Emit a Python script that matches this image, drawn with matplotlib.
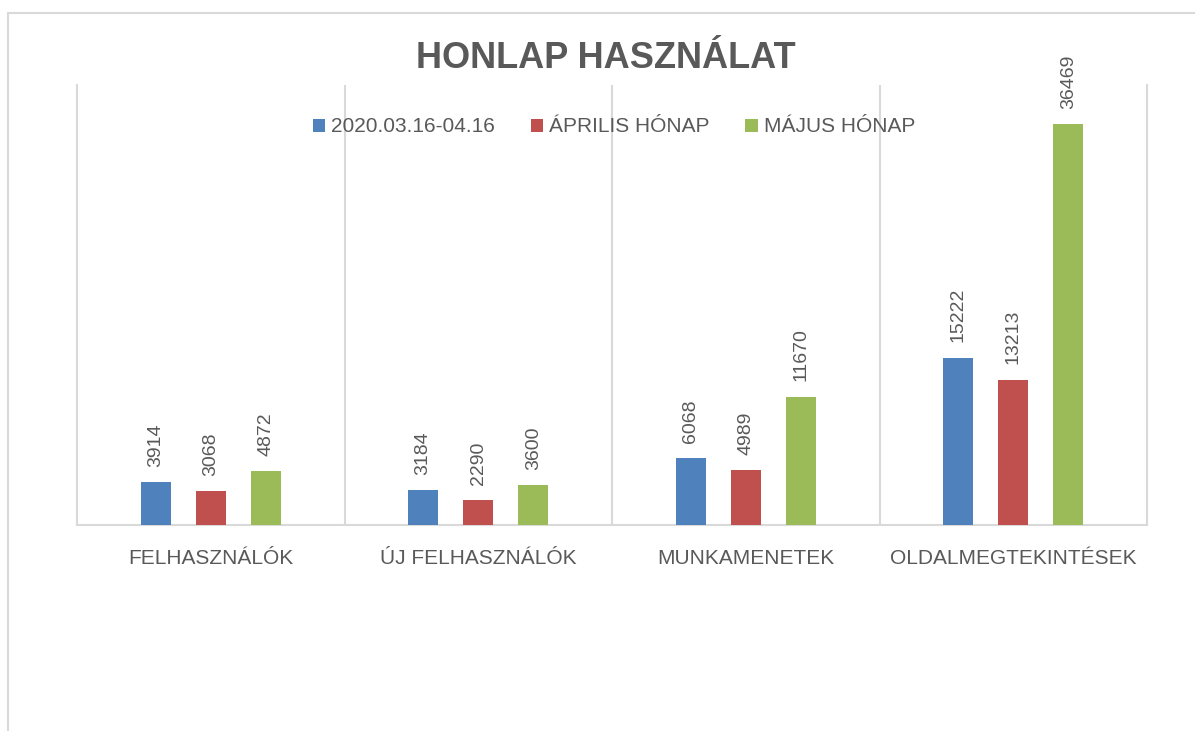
import numpy as np
import matplotlib
matplotlib.use('Agg')
from matplotlib import pyplot as plt
from matplotlib.patches import Rectangle

categories = ['FELHASZNÁLÓK', 'ÚJ FELHASZNÁLÓK', 'MUNKAMENETEK', 'OLDALMEGTEKINTÉSEK']
series_names = ['2020.03.16-04.16', 'ÁPRILIS HÓNAP', 'MÁJUS HÓNAP']
march_april = [3914, 3184, 6068, 15222]
april = [3068, 2290, 4989, 13213]
may = [4872, 3600, 11670, 36469]
colors = ['#4F81BD', '#C0504D', '#9BBB59']

plt.rcParams['font.family'] = ['Liberation Sans', 'DejaVu Sans']
text_gray = '#595959'
grid_gray = '#D9D9D9'

W, H = 1195, 731
fig = plt.figure(figsize=(W / 100, H / 100), dpi=100)
ax = fig.add_axes([77 / W, 1 - 525 / H, 1070 / W, 440 / H])

x = np.arange(len(categories))
offsets = [-0.206, 0, 0.206]
bar_w = 0.112
for vals, off, col, name in zip([march_april, april, may], offsets, colors, series_names):
    bars = ax.bar(x + off, vals, bar_w, color=col, label=name, zorder=3)
    for b, v in zip(bars, vals):
        ax.annotate(str(v), (b.get_x() + b.get_width() / 2, v), xytext=(0, 11),
                    textcoords='offset points', rotation=90, ha='center', va='bottom',
                    fontsize=14, color=text_gray)

ax.set_xlim(-0.5, len(categories) - 0.5)
ax.set_ylim(0, 40000)
ax.set_yticks([])
ax.set_xticks(x, categories)
ax.set_xticks(x[:-1] + 0.5, minor=True)
ax.tick_params(axis='x', which='both', length=0, pad=17, labelsize=15, labelcolor=text_gray)
ax.grid(axis='x', which='minor', color=grid_gray, lw=1.5, zorder=0)
ax.spines['top'].set_visible(False)
for s in ['left', 'right', 'bottom']:
    ax.spines[s].set_color(grid_gray)
    ax.spines[s].set_linewidth(1.5)

fig.text(606 / W, 1 - 59 / H, 'HONLAP HASZNÁLAT', ha='center', va='center',
         fontsize=26, fontweight='bold', color=text_gray)

fig.legend(loc='center', bbox_to_anchor=(614 / W, 1 - 127 / H), ncol=3, frameon=False,
           fontsize=15, labelcolor=text_gray, handlelength=0.6, handleheight=0.6,
           handletextpad=0.3, columnspacing=1.7)

# outer chart border (only left and top visible in the crop)
fig.add_artist(Rectangle((8 / W, -0.2), 1.2, 1.2 - 13 / H, transform=fig.transFigure,
                         facecolor='none', edgecolor=grid_gray, lw=1.5))

fig.savefig('out.png', dpi=100)
